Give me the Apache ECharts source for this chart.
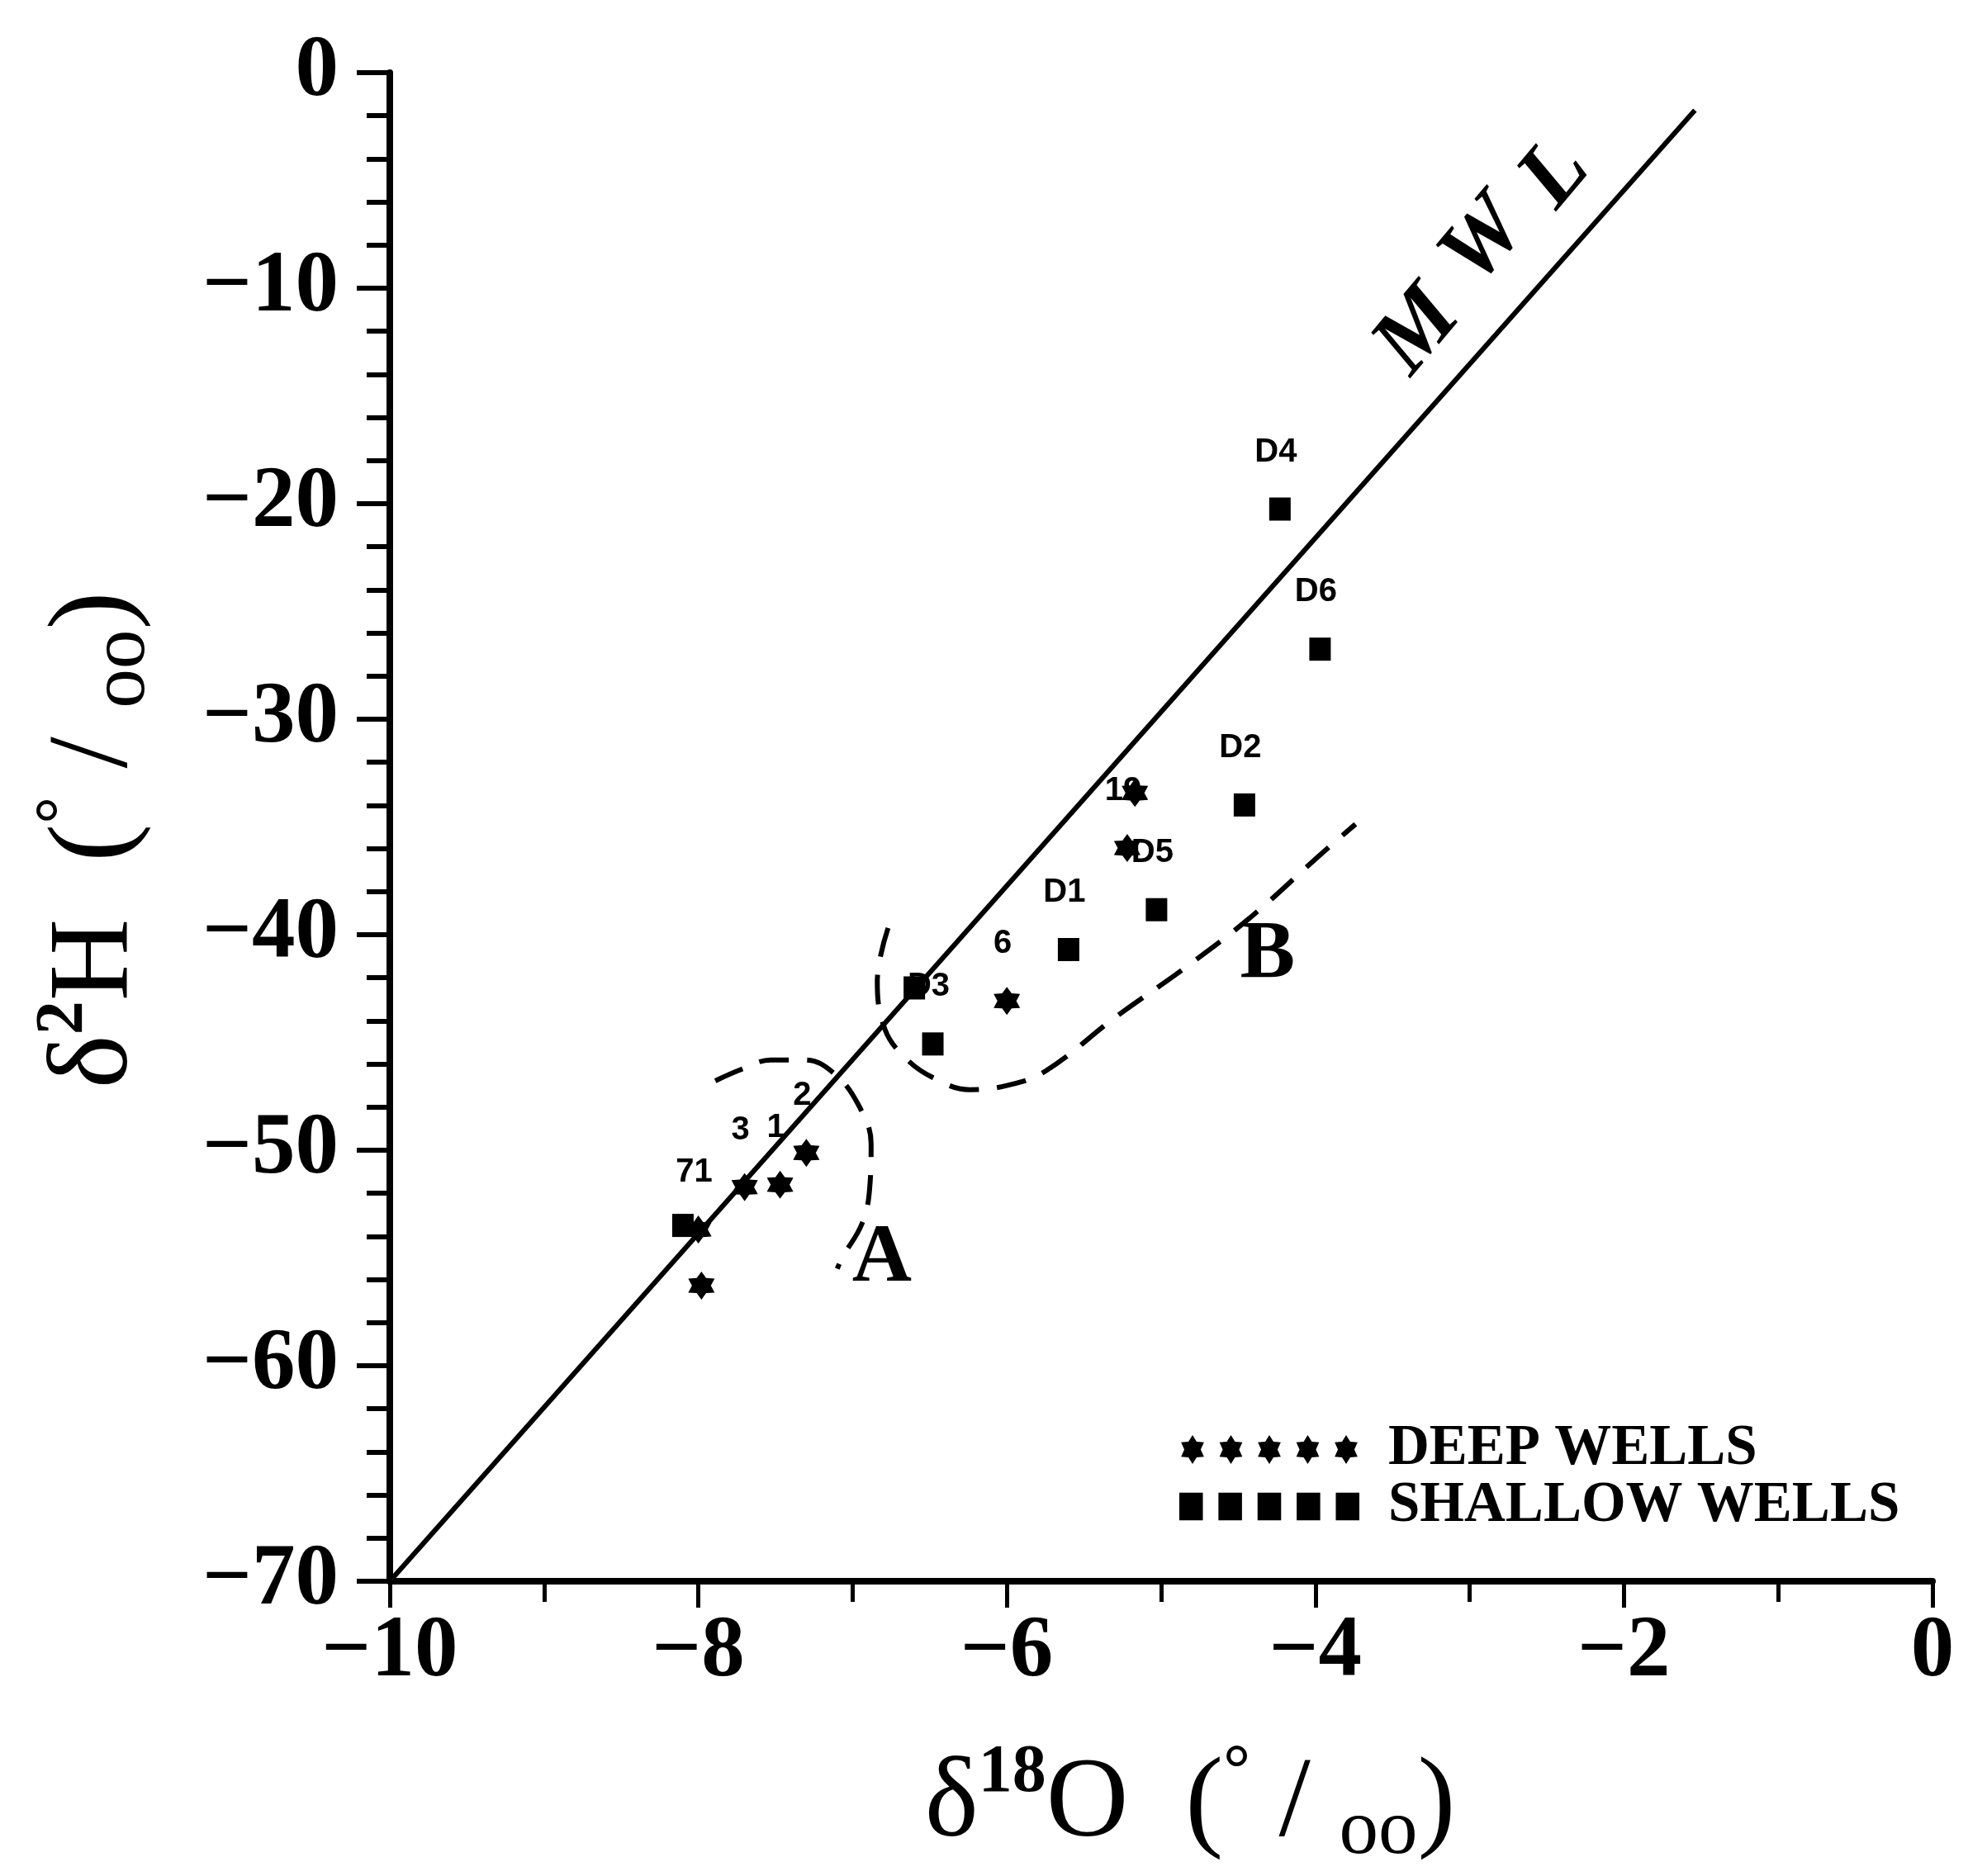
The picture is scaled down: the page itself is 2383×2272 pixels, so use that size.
<!DOCTYPE html>
<html>
<head>
<meta charset="utf-8">
<script src="https://cdn.jsdelivr.net/npm/echarts@6/dist/echarts.min.js"></script>
<style>
html, body { margin: 0; padding: 0; background: #fff; }
#chart { width: 2383px; height: 2272px; }
</style>
</head>
<body>
<div id="chart"></div>
<script>
// axis ranges
var xRange = [-10, 0];
var yRange = [-70, 0];

// deep wells: [d18O, d2H, label]
var deepWells = [
  [-6.00, -43.07, '6'],
  [-5.22, -35.98, '19'],
  [-5.17, -33.42, ''],
  [-7.30, -50.12, '2'],
  [-7.47, -51.60, '1'],
  [-7.70, -51.71, '3'],
  [-8.00, -53.68, '71'],
  [-7.98, -56.28, '']
];

// shallow wells: [d18O, d2H, label]
var shallowWells = [
  [-4.23, -20.25, 'D4'],
  [-3.97, -26.75, 'D6'],
  [-4.46, -33.98, 'D2'],
  [-5.03, -38.84, 'D5'],
  [-5.60, -40.69, 'D1'],
  [-6.48, -45.07, 'D3'],
  [-6.60, -42.47, ''],
  [-8.10, -53.49, '']
];

// meteoric water line end points
var mwl = [[-10, -70], [-1.54, -1.74]];

// dashed group outlines
var curveA = [
  [-7.89, -46.78], [-7.71, -46.22], [-7.53, -45.81], [-7.31, -45.81],
  [-7.12, -46.44], [-6.96, -47.93], [-6.88, -49.71], [-6.89, -51.82],
  [-6.94, -53.42], [-7.06, -54.90], [-7.10, -55.50]
];
var curveB = [
  [-6.77, -39.69], [-6.84, -42.18], [-6.79, -44.40], [-6.66, -45.70],
  [-6.48, -46.63], [-6.24, -47.19], [-6.00, -47.00], [-5.75, -46.33],
  [-5.30, -43.85], [-4.84, -41.51], [-4.43, -39.25], [-3.99, -36.43],
  [-3.74, -34.87]
];

// text annotations [text, x, y]
var groupNotes = [['A', -6.81, -55.05], ['B', -4.31, -40.95]];
var mwlLetters = [['M', -3.33, -12.02], ['W', -2.90, -7.86], ['L', -2.44, -4.75]];

function starPath(cx, cy, rx, ry) {
  var s = '';
  for (var k = 0; k < 12; k++) {
    var a = (-90 + k * 30) * Math.PI / 180;
    var f = k % 2 ? 0.62 : 1;
    s += (k ? 'L' : 'M') + (cx + rx * f * Math.cos(a)).toFixed(2) + ' ' + (cy + ry * f * Math.sin(a)).toFixed(2);
  }
  return s + 'Z';
}
var starRow = '', squareRow = '';
for (var i = 0; i < 5; i++) {
  var cx = 16 + 46.5 * i;
  starRow += starPath(cx, 17.5, 16, 17.5);
  squareRow += 'M' + (cx - 14) + ' 1h28v33h-28Z';
}
var starSymbol = 'path://' + starPath(16, 17, 16, 17);

var serif = '"Liberation Serif", "Times New Roman", serif';
var sans = '"Liberation Sans", Arial, sans-serif';
var minus = function (v) { return String(v).replace('-', '\u2212'); };

var pointLabel = {
  show: true,
  position: 'inside',
  offset: [-5, -69],
  formatter: function (p) { return p.data[2]; },
  fontFamily: sans,
  fontWeight: 'bold',
  fontSize: 40,
  color: '#000'
};

var titleRich = {
  d: { fontFamily: serif, fontSize: 138, lineHeight: 160, color: '#000' },
  sup: { fontFamily: serif, fontWeight: 'bold', fontSize: 82, lineHeight: 82, verticalAlign: 'top', color: '#000' },
  sub: { fontFamily: serif, fontSize: 95, lineHeight: 95, verticalAlign: 'bottom', color: '#000' }
};

var hidden = { color: 'rgba(0,0,0,0)', opacity: 1 };

var chart = echarts.init(document.getElementById('chart'));
chart.setOption({
  animation: false,
  backgroundColor: '#fff',
  grid: { left: 472, top: 88, width: 1868, height: 1887 },
  legend: {
    orient: 'vertical',
    left: 1423,
    top: 1716,
    itemWidth: 218,
    itemHeight: 35,
    itemGap: 0,
    selectedMode: false,
    itemStyle: { opacity: 1 },
    textStyle: {
      fontFamily: serif, fontWeight: 'bold', fontSize: 69, lineHeight: 68,
      color: '#000', padding: [0, 0, 0, 30]
    },
    data: [
      { name: 'DEEP WELLS', icon: 'path://' + starRow },
      { name: 'SHALLOW WELLS', icon: 'path://' + squareRow }
    ]
  },
  xAxis: {
    type: 'value',
    min: xRange[0], max: xRange[1], interval: 2,
    splitLine: { show: false },
    axisLine: { onZero: false, lineStyle: { color: '#000', width: 8 } },
    axisTick: { length: 32, lineStyle: { color: '#000', width: 5 } },
    minorTick: { show: true, splitNumber: 2, length: 25, lineStyle: { color: '#000', width: 5 } },
    axisLabel: {
      margin: 34, formatter: minus,
      fontFamily: serif, fontWeight: 'bold', fontSize: 105, color: '#000'
    },
    name: '{d|\u03b4}{sup|18}{d|O  (}{sup|\u00b0}{d| / }{sub|oo}{d|)}',
    nameLocation: 'middle',
    nameGap: 192,
    nameTextStyle: { padding: [0, 0, 0, 70], rich: titleRich }
  },
  yAxis: {
    type: 'value',
    min: yRange[0], max: yRange[1], interval: 10,
    splitLine: { show: false },
    axisLine: { onZero: false, lineStyle: { color: '#000', width: 8 } },
    axisTick: { length: 40, lineStyle: { color: '#000', width: 6 } },
    minorTick: { show: true, splitNumber: 5, length: 28, lineStyle: { color: '#000', width: 6 } },
    axisLabel: {
      margin: 62, formatter: minus,
      fontFamily: serif, fontWeight: 'bold', fontSize: 105, color: '#000'
    },
    name: '{d|\u03b4}{sup|2}{d|H  (}{sup|\u00b0}{d| / }{sub|oo}{d|)}',
    nameLocation: 'middle',
    nameRotate: 90,
    nameGap: 275,
    nameTextStyle: { padding: [0, 32, 0, 0], rich: titleRich }
  },
  series: [
    {
      name: 'MWL', type: 'line', data: mwl, symbol: 'none', silent: true,
      lineStyle: { color: '#000', width: 6 }, z: 2
    },
    {
      name: 'A', type: 'line', data: curveA, symbol: 'none', smooth: 0.4, silent: true,
      lineStyle: { color: '#000', width: 6, type: [36, 22] }, z: 2
    },
    {
      name: 'B', type: 'line', data: curveB, symbol: 'none', smooth: 0.4, silent: true,
      lineStyle: { color: '#000', width: 6, type: [36, 22] }, z: 2
    },
    {
      name: 'DEEP WELLS', type: 'scatter', data: deepWells,
      symbol: starSymbol, symbolSize: [32, 34],
      itemStyle: { color: '#000', opacity: 1 }, label: pointLabel, z: 3
    },
    {
      name: 'SHALLOW WELLS', type: 'scatter', data: shallowWells,
      symbol: 'rect', symbolSize: [26, 28],
      itemStyle: { color: '#000', opacity: 1 }, label: pointLabel, z: 3
    },
    {
      name: 'groups', type: 'scatter', silent: true, symbolSize: 1,
      itemStyle: hidden,
      data: groupNotes.map(function (d) { return [d[1], d[2], d[0]]; }),
      label: {
        show: true, position: 'inside', formatter: function (p) { return p.data[2]; },
        fontFamily: serif, fontWeight: 'bold', fontSize: 100, color: '#000'
      }
    },
    {
      name: 'mwlText', type: 'scatter', silent: true, symbolSize: 1,
      itemStyle: hidden,
      data: mwlLetters.map(function (d) { return [d[1], d[2], d[0]]; }),
      label: {
        show: true, position: 'inside', rotate: 50, formatter: function (p) { return p.data[2]; },
        fontFamily: serif, fontWeight: 'bold', fontStyle: 'italic', fontSize: 110, color: '#000'
      }
    }
  ]
});
</script>
</body>
</html>
